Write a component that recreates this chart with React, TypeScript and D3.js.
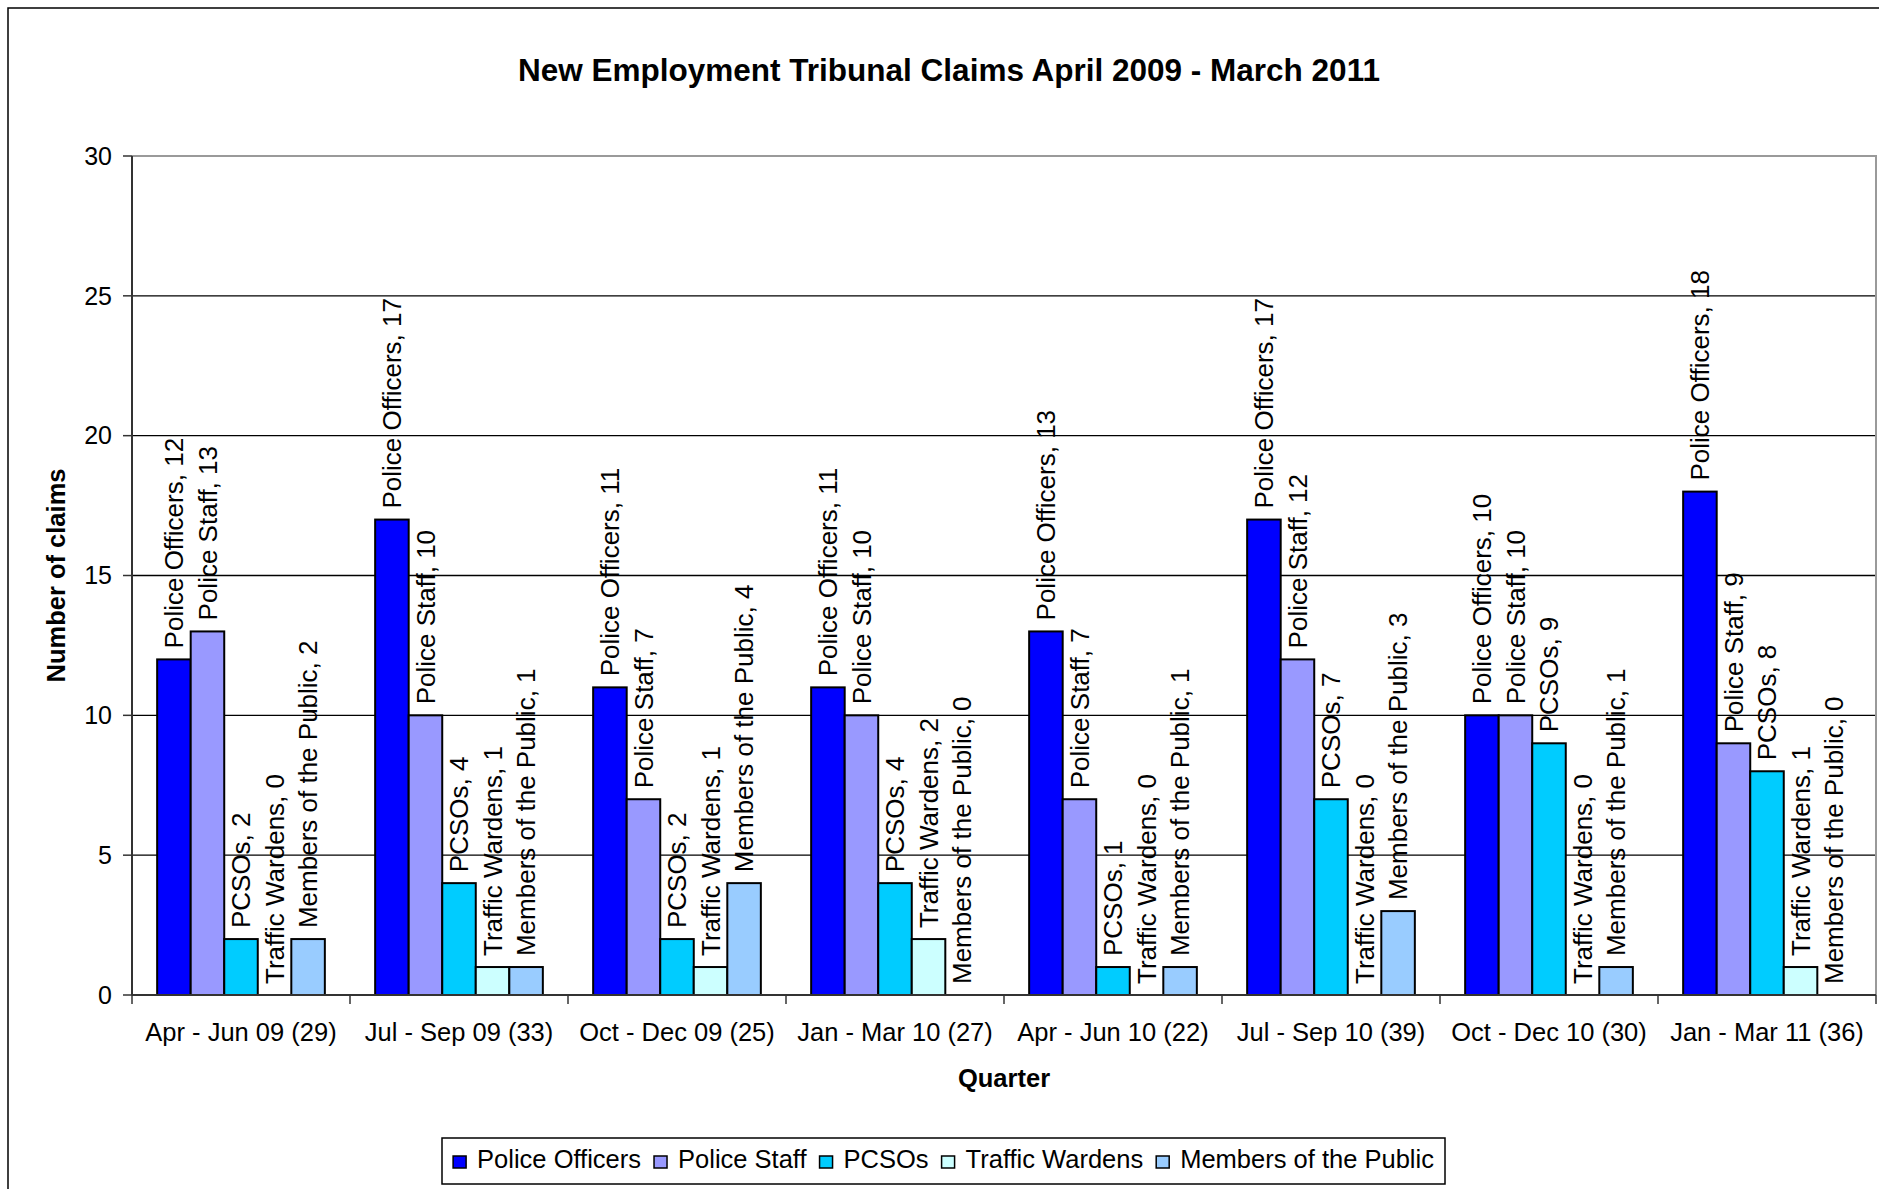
import React, { useEffect, useRef } from "react";
import * as d3 from "d3";

const categories = [
  "Apr - Jun 09 (29)",
  "Jul - Sep 09 (33)",
  "Oct - Dec 09 (25)",
  "Jan - Mar 10 (27)",
  "Apr - Jun 10 (22)",
  "Jul - Sep 10 (39)",
  "Oct - Dec 10 (30)",
  "Jan - Mar 11 (36)",
];
const seriesNames = ["Police Officers", "Police Staff", "PCSOs", "Traffic Wardens", "Members of the Public"];
const policeOfficers = [12, 17, 11, 11, 13, 17, 10, 18];
const policeStaff = [13, 10, 7, 10, 7, 12, 10, 9];
const pcsos = [2, 4, 2, 4, 1, 7, 9, 8];
const trafficWardens = [0, 1, 1, 2, 0, 0, 0, 1];
const membersOfPublic = [2, 1, 4, 0, 1, 3, 1, 0];
const yTicks = [0, 5, 10, 15, 20, 25, 30];
const seriesColors = ["#0000FF", "#9999FF", "#00CCFF", "#CCFFFF", "#99CCFF"];

const W = 1879;
const H = 1189;
const FONT = "'Liberation Sans', Arial, sans-serif";

export default function App() {
  const ref = useRef<SVGSVGElement | null>(null);

  useEffect(() => {
    const svg = d3.select(ref.current);
    svg.selectAll("*").remove();

    const values = [policeOfficers, policeStaff, pcsos, trafficWardens, membersOfPublic];
    const left = 132, right = 1876, top = 156, bottom = 995;

    const x0 = d3.scaleBand<string>().domain(categories).range([left, right]).paddingInner(0).paddingOuter(0);
    const x1 = d3.scaleBand<string>().domain(seriesNames).range([0, x0.bandwidth()]).paddingInner(0).paddingOuter(0.75);
    const y = d3.scaleLinear().domain([0, 30]).range([bottom, top]);

    svg.append("rect").attr("x", 0).attr("y", 0).attr("width", W).attr("height", H).attr("fill", "#fff");
    // outer chart border
    svg.append("rect").attr("x", 8).attr("y", 8).attr("width", 2000).attr("height", 2000)
      .attr("fill", "none").attr("stroke", "#000").attr("stroke-width", 1.5);

    // title
    svg.append("text").attr("x", 949).attr("y", 81).attr("text-anchor", "middle")
      .attr("font-family", FONT).attr("font-weight", "bold").attr("font-size", 31.5)
      .text("New Employment Tribunal Claims April 2009 - March 2011");

    // gridlines
    svg.append("g").selectAll("line").data(yTicks.filter((t) => t > 0 && t < 30)).join("line")
      .attr("x1", left).attr("x2", right).attr("y1", (d) => y(d)).attr("y2", (d) => y(d))
      .attr("stroke", "#000").attr("stroke-width", 1.3);
    // plot border top/right (gray)
    svg.append("path").attr("d", `M${left},${y(30)}H${right}V${bottom}`)
      .attr("fill", "none").attr("stroke", "#9a9a9a").attr("stroke-width", 2);

    // bars
    const gBars = svg.append("g");
    categories.forEach((cat, ci) => {
      seriesNames.forEach((s, si) => {
        const v = values[si][ci];
        const bx = (x0(cat) as number) + (x1(s) as number);
        const bw = x1.bandwidth();
        if (v > 0) {
          gBars.append("rect").attr("x", bx).attr("y", y(v)).attr("width", bw).attr("height", y(0) - y(v))
            .attr("fill", seriesColors[si]).attr("stroke", "#000").attr("stroke-width", 2);
        }
      });
    });

    // axes lines
    svg.append("line").attr("x1", left).attr("x2", left).attr("y1", y(30)).attr("y2", bottom)
      .attr("stroke", "#333").attr("stroke-width", 2);
    svg.append("line").attr("x1", left).attr("x2", right).attr("y1", bottom).attr("y2", bottom)
      .attr("stroke", "#333").attr("stroke-width", 2);

    // y ticks
    const gy = svg.append("g");
    gy.selectAll("line").data(yTicks).join("line")
      .attr("x1", left - 9).attr("x2", left).attr("y1", (d) => y(d)).attr("y2", (d) => y(d))
      .attr("stroke", "#333").attr("stroke-width", 1.5);
    gy.selectAll("text").data(yTicks).join("text")
      .attr("x", 112).attr("y", (d) => y(d)).attr("dy", "0.35em").attr("text-anchor", "end")
      .attr("font-family", FONT).attr("font-size", 25).text((d) => String(d));

    // x ticks
    const boundaries = d3.range(categories.length + 1).map((i) => left + i * x0.step());
    svg.append("g").selectAll("line").data(boundaries).join("line")
      .attr("x1", (d) => d).attr("x2", (d) => d).attr("y1", bottom).attr("y2", bottom + 9)
      .attr("stroke", "#333").attr("stroke-width", 1.5);
    svg.append("g").selectAll("text").data(categories).join("text")
      .attr("x", (d) => (x0(d) as number) + x0.bandwidth() / 2).attr("y", 1041)
      .attr("text-anchor", "middle").attr("font-family", FONT).attr("font-size", 25.5)
      .text((d) => d);

    // data labels
    const gLab = svg.append("g");
    categories.forEach((cat, ci) => {
      seriesNames.forEach((s, si) => {
        const v = values[si][ci];
        const cx = (x0(cat) as number) + (x1(s) as number) + x1.bandwidth() / 2;
        const ty = y(v) - 11;
        gLab.append("text").attr("transform", `translate(${cx},${ty}) rotate(-90)`)
          .attr("dy", "0.35em").attr("font-family", FONT).attr("font-size", 26)
          .text(`${s}, ${v}`);
      });
    });

    // axis titles
    svg.append("text").attr("transform", `translate(65,${(top + bottom) / 2}) rotate(-90)`)
      .attr("text-anchor", "middle").attr("font-family", FONT).attr("font-weight", "bold").attr("font-size", 25.5)
      .text("Number of claims");
    svg.append("text").attr("x", (left + right) / 2).attr("y", 1087).attr("text-anchor", "middle")
      .attr("font-family", FONT).attr("font-weight", "bold").attr("font-size", 25.5).text("Quarter");

    // legend
    const lg = svg.append("g");
    const box = lg.append("rect").attr("fill", "#fff").attr("stroke", "#000").attr("stroke-width", 1.5);
    let cx = 0;
    const itemsG = lg.append("g");
    seriesNames.forEach((s, si) => {
      itemsG.append("rect").attr("x", cx).attr("y", 1156).attr("width", 13).attr("height", 12)
        .attr("fill", seriesColors[si]).attr("stroke", "#000").attr("stroke-width", 1.5);
      const t = itemsG.append("text").attr("x", cx + 24).attr("y", 1168).attr("font-family", FONT)
        .attr("font-size", 25.5).text(s);
      const tw = (t.node() as SVGTextElement).getComputedTextLength();
      cx += 24 + tw + (si < seriesNames.length - 1 ? 13 : 0);
    });
    const totalW = cx;
    const boxLeft = 442, boxRight = 1445;
    const startX = (boxLeft + boxRight) / 2 - totalW / 2;
    itemsG.attr("transform", `translate(${startX},0)`);
    box.attr("x", boxLeft).attr("y", 1138).attr("width", boxRight - boxLeft).attr("height", 46);
  }, []);

  return (
    <svg ref={ref} width={W} height={H} style={{ position: "absolute", left: 0, top: 0, display: "block" }} />
  );
}
